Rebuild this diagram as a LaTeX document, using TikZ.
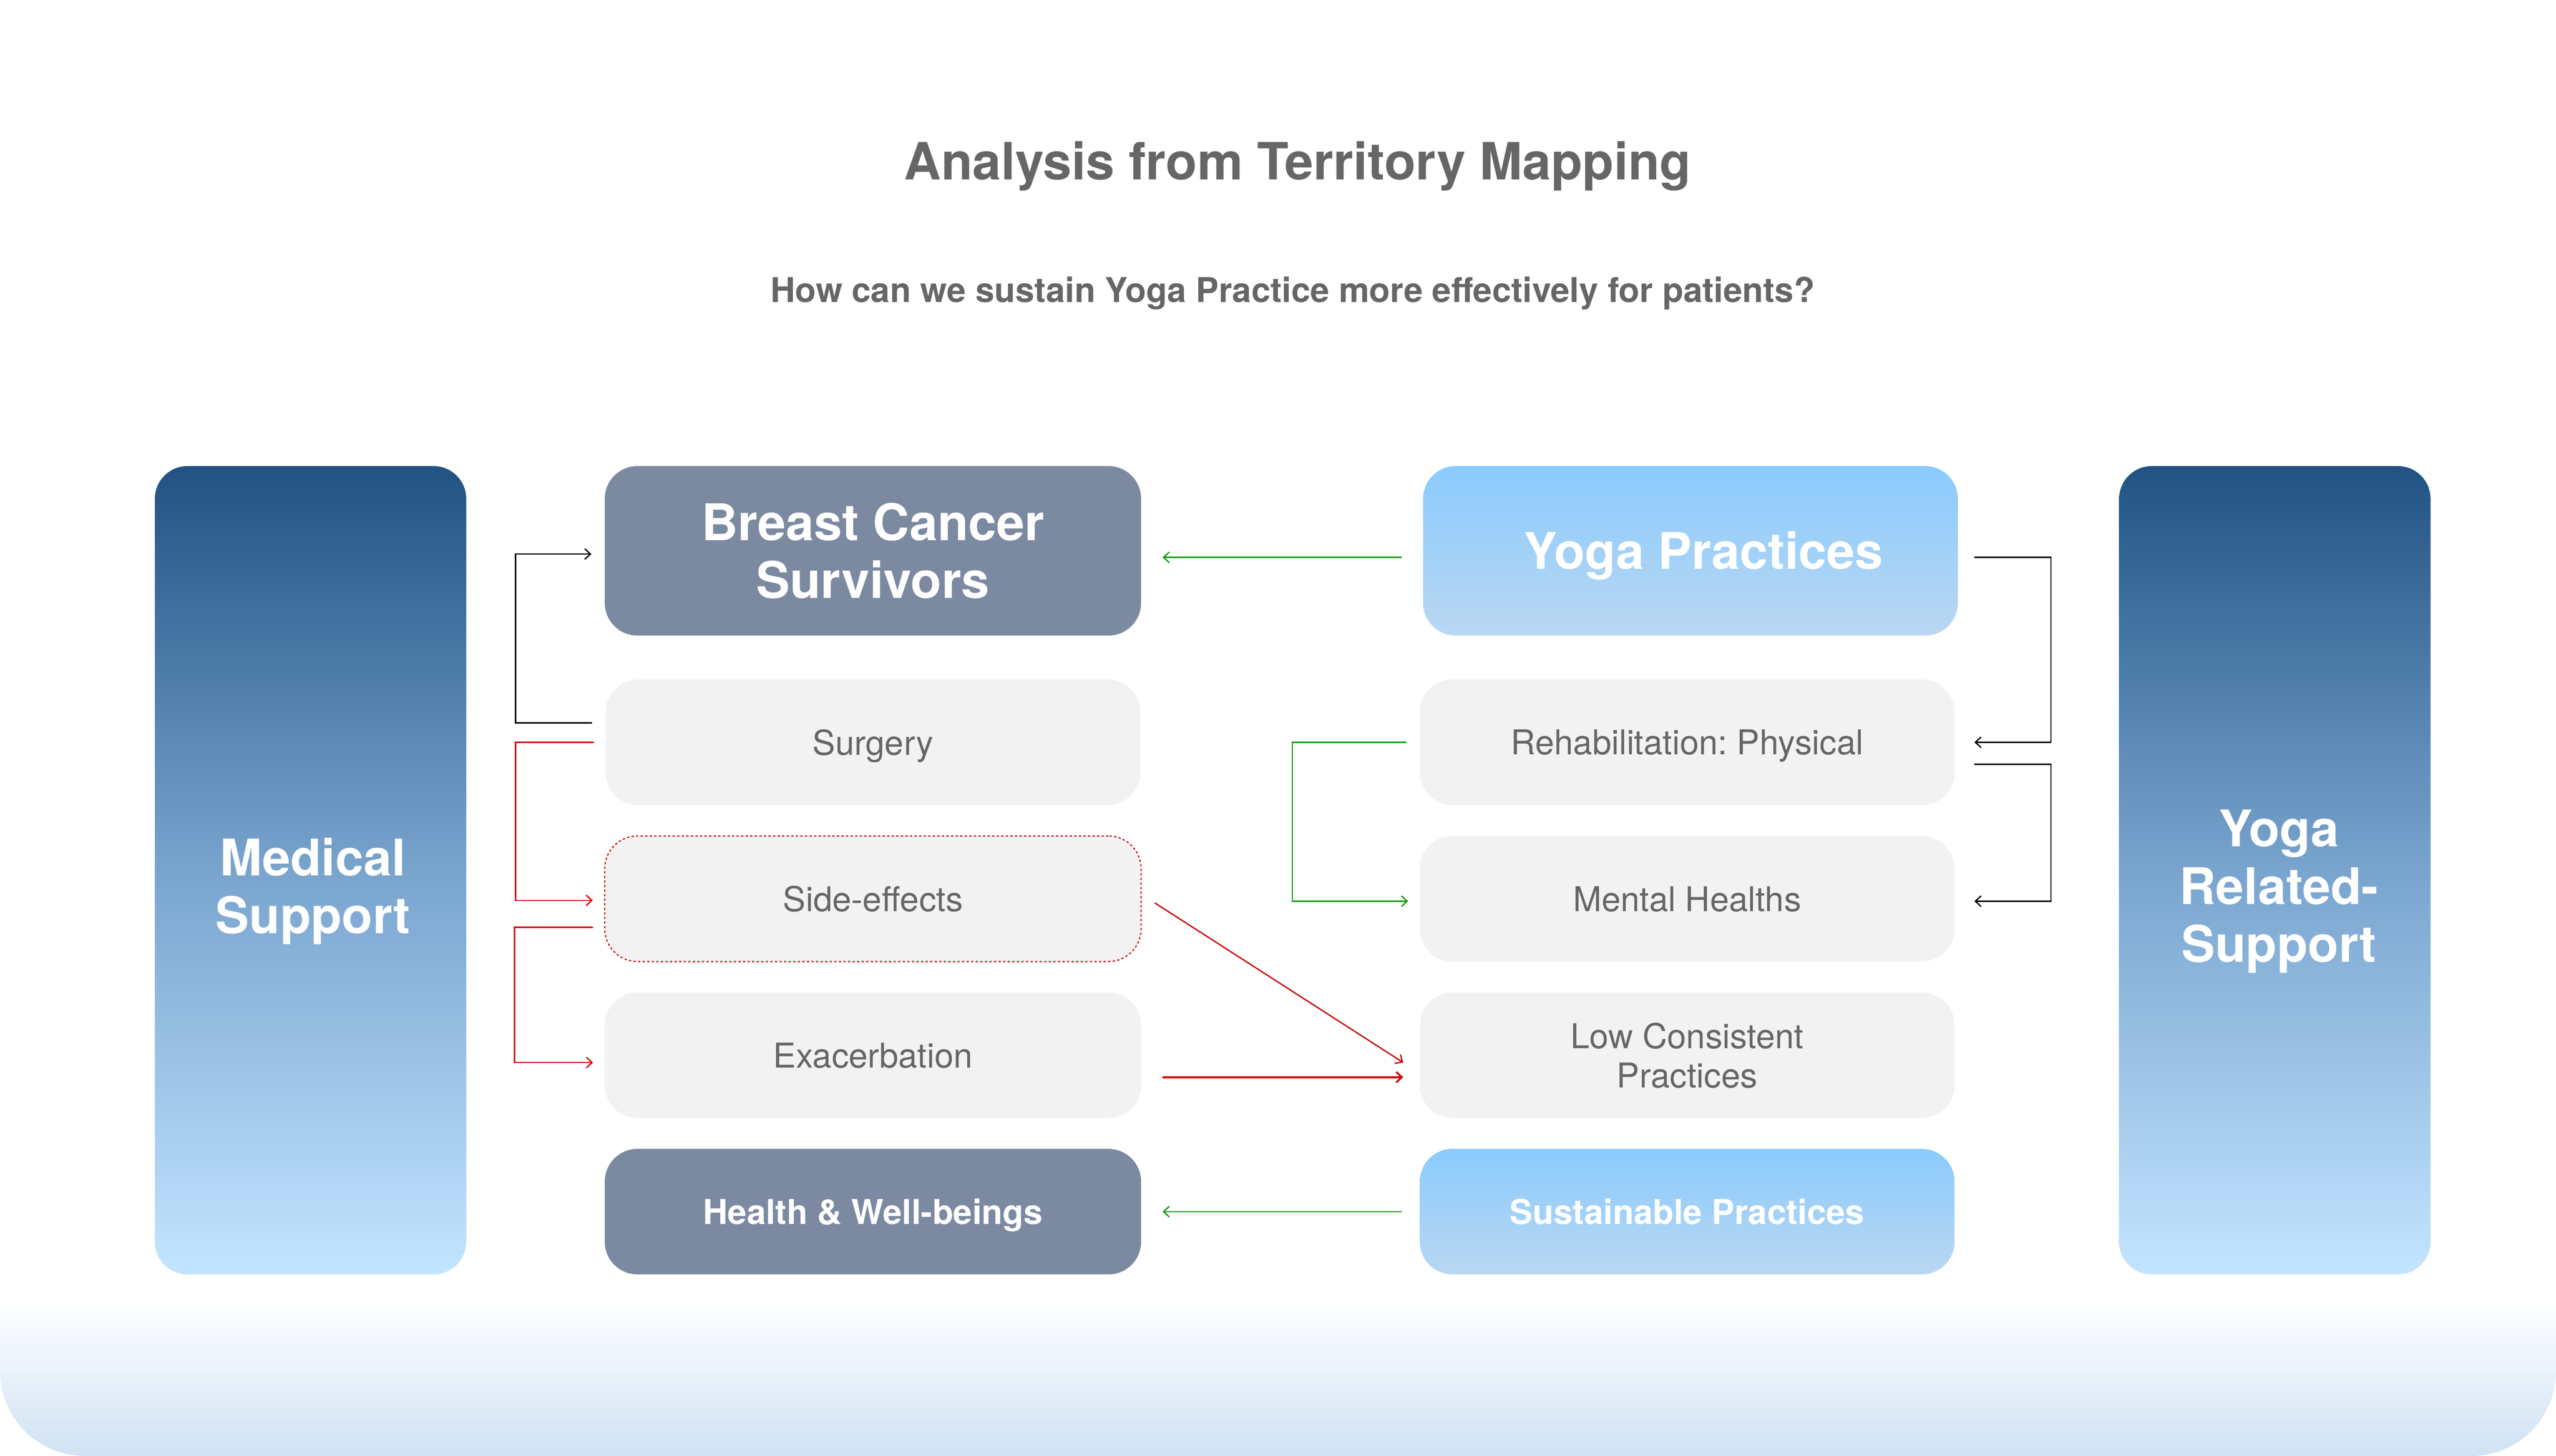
\documentclass[tikz,border=0pt]{standalone}
\usepackage{fontspec}
\setmainfont{TeX Gyre Heros}
\usetikzlibrary{arrows.meta}
\frenchspacing

\definecolor{slate}{HTML}{7B8AA0}
\definecolor{boxgrey}{HTML}{F2F2F2}
\definecolor{txtgrey}{HTML}{666666}
\definecolor{navytop}{HTML}{225283}
\definecolor{navymid}{HTML}{78A4CE}
\definecolor{navybot}{HTML}{C3E5FF}
\definecolor{skytop}{HTML}{8ACBFD}
\definecolor{skybot}{HTML}{BAD7F2}
\definecolor{bgblue}{HTML}{D0E2F4}
\definecolor{linkred}{HTML}{CC0000}
\definecolor{linkgreen}{HTML}{139A13}

\tikzset{
  tallbox/.style={rounded corners=20pt, inner sep=0pt, minimum width=191pt, minimum height=496pt,
    top color=navytop, bottom color=navybot, middle color=navymid},
  slatebox/.style={rounded corners=20pt, inner sep=0pt, minimum width=329pt, fill=slate,
    text=white, align=center},
  greybox/.style={rounded corners=20pt, inner sep=0pt, minimum width=328pt, minimum height=77pt,
    fill=boxgrey, text=txtgrey, align=center, text depth=0pt, font=\fontsize{21}{24}\selectfont},
  skybox/.style={rounded corners=20pt, inner sep=0pt, minimum width=328pt,
    top color=skytop, bottom color=skybot, text=white, align=center},
  bigtxt/.style={font=\bfseries\fontsize{31}{35.5}\selectfont, text=white, align=center},
  smallbold/.style={font=\bfseries\fontsize{21}{24}\selectfont, text depth=0pt},
  conn/.style={line width=0.8pt, -{Straight Barb[length=3.5pt,width=6.5pt]}},
}

\begin{document}
\begin{tikzpicture}[x=1pt, y=-1pt]
\useasboundingbox (0,0) rectangle (1568,893.4);
\fill[white] (0,0) rectangle (1568,893.4);
\shade[top color=white, bottom color=bgblue, middle color=white, rounded corners=52pt] (0,700) rectangle (1568,893.4);

% titles
\node[font=\bfseries\fontsize{31.5}{36}\selectfont, text=txtgrey] (title) at (796,102) {Analysis from Territory Mapping};
\node[font=\bfseries\fontsize{21}{24}\selectfont, text=txtgrey] (question) at (793,180) {How can we sustain Yoga Practice more effectively for patients?};

% side columns
\node[tallbox] (medbox) at (190.5,534) {};
\node[bigtxt] (medtxt) at (192,547) {Medical\\Support};
\node[tallbox] (yrsbox) at (1395.5,534) {};
\node[bigtxt] (yrstxt) at (1398,547) {Yoga\\Related-\\Support};

% survivors column
\node[slatebox, minimum height=104pt, bigtxt] (bcs) at (535.5,338) {Breast Cancer\\Survivors};
\node[greybox] (surgery) at (535.5,455.5) {Surgery};
\node[greybox, minimum width=329pt, draw=linkred, line width=0.7pt, dash pattern=on 1.4pt off 1.4pt] (side) at (535.5,551.5) {Side-effects};
\node[greybox, minimum width=329pt] (exac) at (535.5,647.5) {Exacerbation};
\node[slatebox, minimum height=77pt, smallbold] (health) at (535.5,743.5) {Health \& Well-beings};

% yoga column
\node[skybox, minimum height=104pt] (yoga) at (1037,338) {};
\node[bigtxt] (yogatxt) at (1045,341) {Yoga Practices};
\node[greybox] (rehab) at (1035,455.5) {Rehabilitation: Physical};
\node[greybox] (mental) at (1035,551.5) {Mental Healths};
\node[greybox] (lowcon) at (1035,647.5) {Low Consistent\\Practices};
\node[skybox, minimum height=77pt, smallbold] (sust) at (1035,743.5) {Sustainable Practices};

% links
\draw[conn] ([xshift=-8pt,yshift=12pt]surgery.west) -- ++(-47,0) |- ([xshift=-8pt,yshift=-2pt]bcs.west);
\draw[conn, linkred] ([xshift=-7pt]surgery.west) -- ++(-48,0) |- ([xshift=-7pt,yshift=-1pt]side.west);
\draw[conn, linkred] ([xshift=-7pt,yshift=-17.5pt]side.west) -- ++(-48,0) |- ([xshift=-7pt,yshift=-4.5pt]exac.west);
\draw[conn, linkgreen] ([xshift=-13pt,yshift=-4pt]yoga.west) -- ([xshift=13pt,yshift=-4pt]bcs.east);
\draw[conn, linkred] ([xshift=8pt,yshift=-2.5pt]side.east) -- ([xshift=-10pt,yshift=-4.5pt]lowcon.west);
\draw[conn, linkred, line width=1.1pt] ([xshift=13pt,yshift=-13.5pt]exac.east) -- ([xshift=-10pt,yshift=-13.5pt]lowcon.west);
\draw[conn, linkgreen] ([xshift=-8pt]rehab.west) -- ++(-70,0) |- ([xshift=-7pt,yshift=-1.5pt]mental.west);
\draw[conn] ([xshift=10pt,yshift=-4pt]yoga.east) -- ++(47,0) |- ([xshift=12pt]rehab.east);
\draw[conn] ([xshift=12pt,yshift=-13.5pt]rehab.east) -- ++(47,0) |- ([xshift=12pt,yshift=-1.5pt]mental.east);
\draw[conn, linkgreen] ([xshift=-11pt]sust.west) -- ([xshift=13pt]health.east);

\end{tikzpicture}
\end{document}
